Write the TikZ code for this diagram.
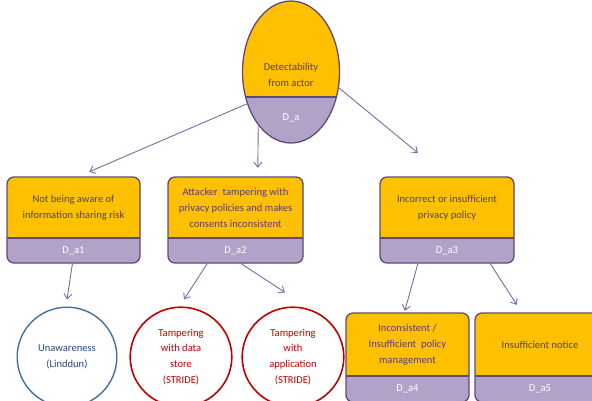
\documentclass[tikz,border=0pt]{standalone}
\usepackage{fontspec}
\setmainfont{Carlito}
\usetikzlibrary{shapes.geometric,arrows.meta,calc}
\definecolor{org}{HTML}{FFC000}
\definecolor{lil}{HTML}{B3A2C7}
\definecolor{bord}{HTML}{5F497A}
\definecolor{txtp}{HTML}{55407A}
\definecolor{arrc}{HTML}{7F68A8}
\definecolor{blu}{HTML}{41719C}
\definecolor{blutxt}{HTML}{1F497D}
\definecolor{redc}{HTML}{C00000}
\newcommand{\ttbox}[8]{%
  % #1 name, #2 x1, #3 y1, #4 x2, #5 ydiv, #6 y2, #7 text, #8 id
  \fill[lil, rounded corners=7] (#2,#3) rectangle (#4,#6);
  \begin{scope}
    \clip (#2,#3) rectangle (#4,#5);
    \fill[org, rounded corners=7] (#2,#3) rectangle (#4,#6);
  \end{scope}
  \draw[bord, line width=1.3pt] (#2,#5) -- (#4,#5);
  \draw[bord, line width=1.3pt, rounded corners=7] (#2,#3) rectangle (#4,#6);
  \path let \p1=(#2,#3), \p2=(#4,#6) in
    node[inner sep=0, minimum width={\x2-\x1}, minimum height={\y1-\y2}] (#1) at ($(#2,#3)!0.5!(#4,#6)$) {};
  \node[maintxt] (#1-t) at ($(#2,#3)!0.5!(#4,#5)$) {#7};
  \node[idtxt] (#1-id) at ($(#2,#5)!0.5!(#4,#6)$) {#8};
}
\tikzset{
  maintxt/.style={text=txtp, font=\fontsize{10.6}{16}\selectfont, align=center, inner sep=0},
  idtxt/.style={text=white, font=\fontsize{10.6}{12}\selectfont, inner sep=0},
  arr/.style={draw=arrc, line width=0.9pt, -{Straight Barb[length=5pt,width=8pt]}},
  bluc/.style={ellipse, draw=blu, line width=1.4pt, minimum width=100, minimum height=100, text=blutxt, font=\fontsize{10.6}{16.5}\selectfont, align=center},
  redcirc/.style={ellipse, draw=redc, line width=1.6pt, minimum width=102, minimum height=100, text=redc, font=\fontsize{10.6}{16}\selectfont, align=center}
}
\begin{document}
\begin{tikzpicture}[x=1bp,y=-1bp]
\useasboundingbox (0,0) rectangle (592,400);
\begin{scope}
\clip (0,0) rectangle (592,400);
% top ellipse
\node[ellipse, minimum width=97, minimum height=142, inner sep=0, fill=lil] (top) at (291,72) {};
\begin{scope}
  \clip (top.center) ellipse [x radius=48.5, y radius=71];
  \fill[org] (240,0) rectangle (345,97);
  \draw[bord, line width=1.3pt] (240,97) -- (345,97);
\end{scope}
\draw[bord, line width=1.3pt] (top.center) ellipse [x radius=48.5, y radius=71];
\node[maintxt] (top-t) at (291,75) {Detectability\\from actor};
\node[idtxt] (top-id) at (291,118) {D\_a};

% boxes
\ttbox{b1}{7}{177}{140}{238}{263}{Not being aware of\\information sharing risk}{D\_a1}
\ttbox{b2}{168}{177}{303}{238}{263}{Attacker\ \ tampering with\\privacy policies and makes\\consents inconsistent}{D\_a2}
\ttbox{b3}{380}{177}{514}{238}{263}{Incorrect or insufficient\\privacy policy}{D\_a3}
\ttbox{b4}{346}{313}{469}{376}{402}{Inconsistent /\\Insufficient\ \ policy\\management}{D\_a4}
\ttbox{b5}{475}{313}{605}{376}{402}{Insufficient notice}{D\_a5}

% circles
\node[bluc] (c1) at (67,357) {Unawareness\\(Linddun)};
\node[redcirc] (c2) at (181,357) {Tampering\\with data\\store\\(STRIDE)};
\node[redcirc] (c3) at (293,357) {Tampering\\with\\application\\(STRIDE)};

% arrows
\draw[arr] (top.216) -- ([xshift=-51bp,yshift=5bp]b1.north east);
\draw[arr] (top.238) -- ([xshift=90bp,yshift=9bp]b2.north west);
\draw[arr] (top.342) -- ([xshift=38bp,yshift=24bp]b3.north west);
\draw[arr] ([xshift=-1bp]b1.south) -- ([yshift=7bp]c1.north);
\draw[arr] ([xshift=-28bp]b2.south) -- ([xshift=3bp,yshift=7bp]c2.north);
\draw[arr] ([xshift=5bp]b2.south) -- ([xshift=-8bp,yshift=14bp]c3.north);
\draw[arr] ([xshift=-29bp]b3.south) -- ([xshift=59bp,yshift=2bp]b4.north west);
\draw[arr] ([xshift=43bp]b3.south) -- ([xshift=42bp,yshift=8bp]b5.north west);
\end{scope}
\end{tikzpicture}
\end{document}
